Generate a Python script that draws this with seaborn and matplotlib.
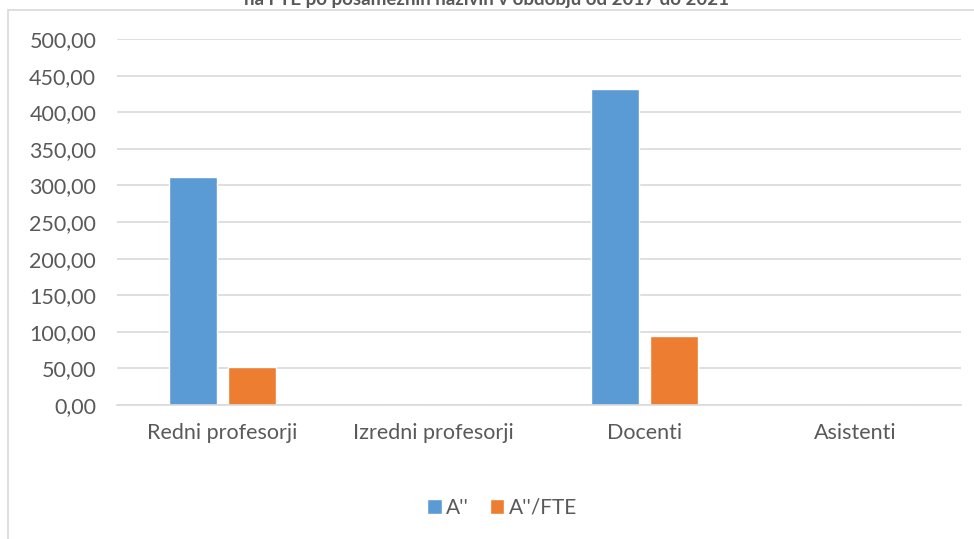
import pandas as pd
import matplotlib.pyplot as plt
import matplotlib.lines as mlines
import matplotlib.ticker as mticker
import seaborn as sns

# Data
categories = ['Redni profesorji', 'Izredni profesorji', 'Docenti', 'Asistenti']
a_values = [312.0, 0, 431.5, 0]
a_fte_values = [52.5, 0, 94.0, 0]
series = ["A''", "A''/FTE"]
colors = ['#5B9BD5', '#ED7D31']
title = "na FTE po posameznih nazivih v obdobju od 2017 do 2021"

df = pd.DataFrame({
    'kategorija': categories * 2,
    'vrednost': a_values + a_fte_values,
    'serija': [series[0]] * 4 + [series[1]] * 4,
})

sns.set_style('white')
plt.rcParams['font.family'] = ['Lato', 'DejaVu Sans']
text_col = '#595959'

fig = plt.figure(figsize=(9.74, 5.39), dpi=100)
ax = fig.add_axes([117 / 974, (539 - 405) / 539, 844 / 974, 366 / 539])

sns.barplot(data=df, x='kategorija', y='vrednost', hue='serija',
            palette=colors, width=0.56, gap=0.2, saturation=1,
            ax=ax, legend=True)

ax.set_ylim(0, 500)
ax.set_xlim(-0.5, 3.5)
ax.set_yticks(range(0, 501, 50))
ax.yaxis.set_major_formatter(mticker.FuncFormatter(lambda v, p: f'{v:.2f}'.replace('.', ',')))
ax.grid(axis='y', color='#D9D9D9', linewidth=1.2)
ax.set_axisbelow(True)
for s in ['top', 'right', 'left']:
    ax.spines[s].set_visible(False)
ax.spines['bottom'].set_color('#D9D9D9')
ax.spines['bottom'].set_linewidth(1.2)
ax.tick_params(axis='both', length=0, labelsize=15.5, colors=text_col)
ax.tick_params(axis='y', pad=15)
ax.tick_params(axis='x', pad=13)
ax.set_xlabel('')
ax.set_ylabel('')

# legend at bottom
handles, labels = ax.get_legend_handles_labels()
ax.legend(handles, labels, loc='center', bbox_to_anchor=(502 / 974, (539 - 508) / 539),
          bbox_transform=fig.transFigure, ncol=2, frameon=False, fontsize=15,
          handlelength=0.7, handleheight=0.7, handletextpad=0.2, columnspacing=1.0,
          labelcolor=text_col)

# title (cut off at the top as in the source)
fig.text(487 / 974, 1 - 5 / 539, title, ha='center', va='baseline',
         fontsize=13.5, fontweight='bold', color=text_col)

# chart area border
fig.add_artist(mlines.Line2D([8 / 974, 1], [1 - 10 / 539, 1 - 10 / 539],
                             transform=fig.transFigure, color='#D9D9D9', linewidth=1.2))
fig.add_artist(mlines.Line2D([8 / 974, 8 / 974], [0, 1 - 10 / 539],
                             transform=fig.transFigure, color='#D9D9D9', linewidth=1.2))

fig.savefig('out.png', dpi=100)
